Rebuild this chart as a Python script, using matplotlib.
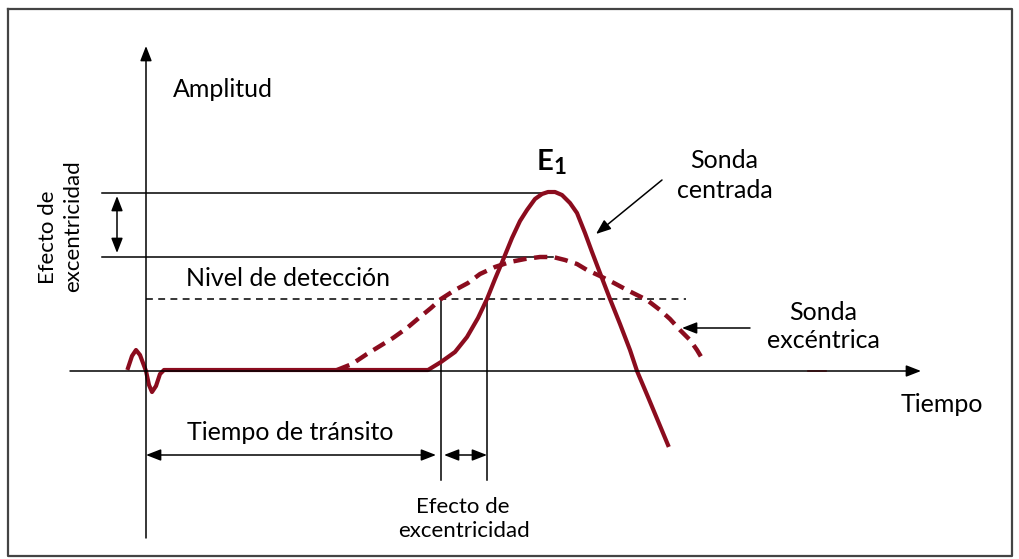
import matplotlib
matplotlib.use("Agg")
import matplotlib.pyplot as plt

# diagram coordinates are read in picture pixels (x right, y down)
RED = "#8b0c1e"

# Sonda centrada (solid)
cen_x = [128, 132, 136, 140, 146, 149, 152, 156, 160, 164, 200, 300, 400, 428,
         441, 455, 467, 478, 487, 495, 503, 512, 520, 527, 535, 542, 548, 555,
         562, 570, 577, 585, 592, 600, 610, 620, 630, 637, 648, 658, 668]
cen_y = [368, 356, 350, 355, 371, 385, 392, 386, 374, 370, 370, 370, 370, 370,
         362, 352, 337, 318, 299, 279, 260, 238, 221, 210, 199, 194, 192, 192,
         195, 203, 213, 233, 252, 273, 299, 324, 350, 371, 397, 421, 445]

# Sonda excéntrica (dashed)
exc_x = [337, 352, 367, 380, 393, 407, 420, 431, 441, 455, 468, 480, 495, 510,
         525, 540, 553, 565, 577, 587, 600, 614, 627, 637, 647, 660, 670, 680,
         690, 697, 703]
exc_y = [370, 364, 354, 346, 338, 328, 317, 308, 299, 290, 283, 274, 267, 262,
         259, 257, 257, 260, 264, 270, 276, 283, 290, 295, 300, 310, 319, 330,
         340, 350, 360]

# reference levels
y_axis_x = 146
x_axis_y = 371
peak_y = 193
exc_peak_y = 257
det_y = 299
t_exc = 441
t_cen = 487

plt.rcParams["font.family"] = ["Lato", "DejaVu Sans"]
fig = plt.figure(figsize=(10.2, 5.59), dpi=100)
ax = fig.add_axes([0, 0, 1, 1])
ax.set_xlim(0, 1020)
ax.set_ylim(559, 0)
ax.axis("off")

# frame
ax.plot([8, 1012, 1012, 8, 8], [9, 9, 556, 556, 9], color="#444", lw=1.6)

blk = dict(color="black", lw=1.1)
arr = dict(arrowstyle="-|>,head_length=0.9,head_width=0.35", color="black", lw=1.1,
           shrinkA=0, shrinkB=0)
darr = dict(arrowstyle="<|-|>,head_length=0.9,head_width=0.35", color="black", lw=1.1,
            shrinkA=0, shrinkB=0)

# axes
ax.annotate("", xy=(y_axis_x, 46), xytext=(y_axis_x, 538), arrowprops=arr)
ax.annotate("", xy=(921, x_axis_y), xytext=(70, x_axis_y), arrowprops=arr)

# level lines
ax.plot([102, 553], [peak_y, peak_y], **blk)
ax.plot([102, 553], [exc_peak_y, exc_peak_y], **blk)
ax.plot([y_axis_x, 686], [det_y, det_y], color="black", lw=1.1, ls=(0, (4.5, 3.5)))
ax.plot([t_exc, t_exc], [det_y, 480], **blk)
ax.plot([t_cen, t_cen], [det_y, 480], **blk)
ax.plot([808, 826], [x_axis_y, x_axis_y], color="#d9303e", lw=1.2)

# dimension arrows
ax.annotate("", xy=(117, 196), xytext=(117, 253), arrowprops=darr)
ax.annotate("", xy=(y_axis_x, 455), xytext=(436, 455), arrowprops=darr)
ax.annotate("", xy=(444, 455), xytext=(487, 455), arrowprops=darr)

# curves
ax.plot(exc_x, exc_y, color=RED, lw=3.2, ls=(0, (3.0, 1.7)), solid_capstyle="butt")
ax.plot(cen_x, cen_y, color=RED, lw=3.0, solid_joinstyle="round")

# pointer arrows
ax.annotate("", xy=(596, 234), xytext=(662, 180), arrowprops=arr)
ax.annotate("", xy=(682, 328), xytext=(750, 328), arrowprops=arr)

# texts (baseline positions)
fs = 18
sm = 16
ax.text(173, 97, "Amplitud", fontsize=fs, va="baseline", ha="left")
ax.text(54, 237, "Efecto de", fontsize=sm, rotation=90, va="baseline", ha="center",
        rotation_mode="anchor")
ax.text(79, 226, "excentricidad", fontsize=sm, rotation=90, va="baseline", ha="center",
        rotation_mode="anchor")
ax.text(186, 286, "Nivel de detección", fontsize=fs, va="baseline", ha="left")
ax.text(290, 440, "Tiempo de tránsito", fontsize=fs, va="baseline", ha="center")
ax.text(463, 513, "Efecto de", fontsize=sm, va="baseline", ha="center")
ax.text(464, 537, "excentricidad", fontsize=sm, va="baseline", ha="center")
ax.text(537, 170, "E", fontsize=21, va="baseline", ha="left", fontweight="bold")
ax.text(554, 174, "1", fontsize=16, va="baseline", ha="left", fontweight="bold")
ax.text(724, 168, "Sonda", fontsize=fs, va="baseline", ha="center")
ax.text(725, 198, "centrada", fontsize=fs, va="baseline", ha="center")
ax.text(823, 320, "Sonda", fontsize=fs, va="baseline", ha="center")
ax.text(823, 348, "excéntrica", fontsize=fs, va="baseline", ha="center")
ax.text(942, 412, "Tiempo", fontsize=fs, va="baseline", ha="center")

fig.savefig("out.png", dpi=100)
